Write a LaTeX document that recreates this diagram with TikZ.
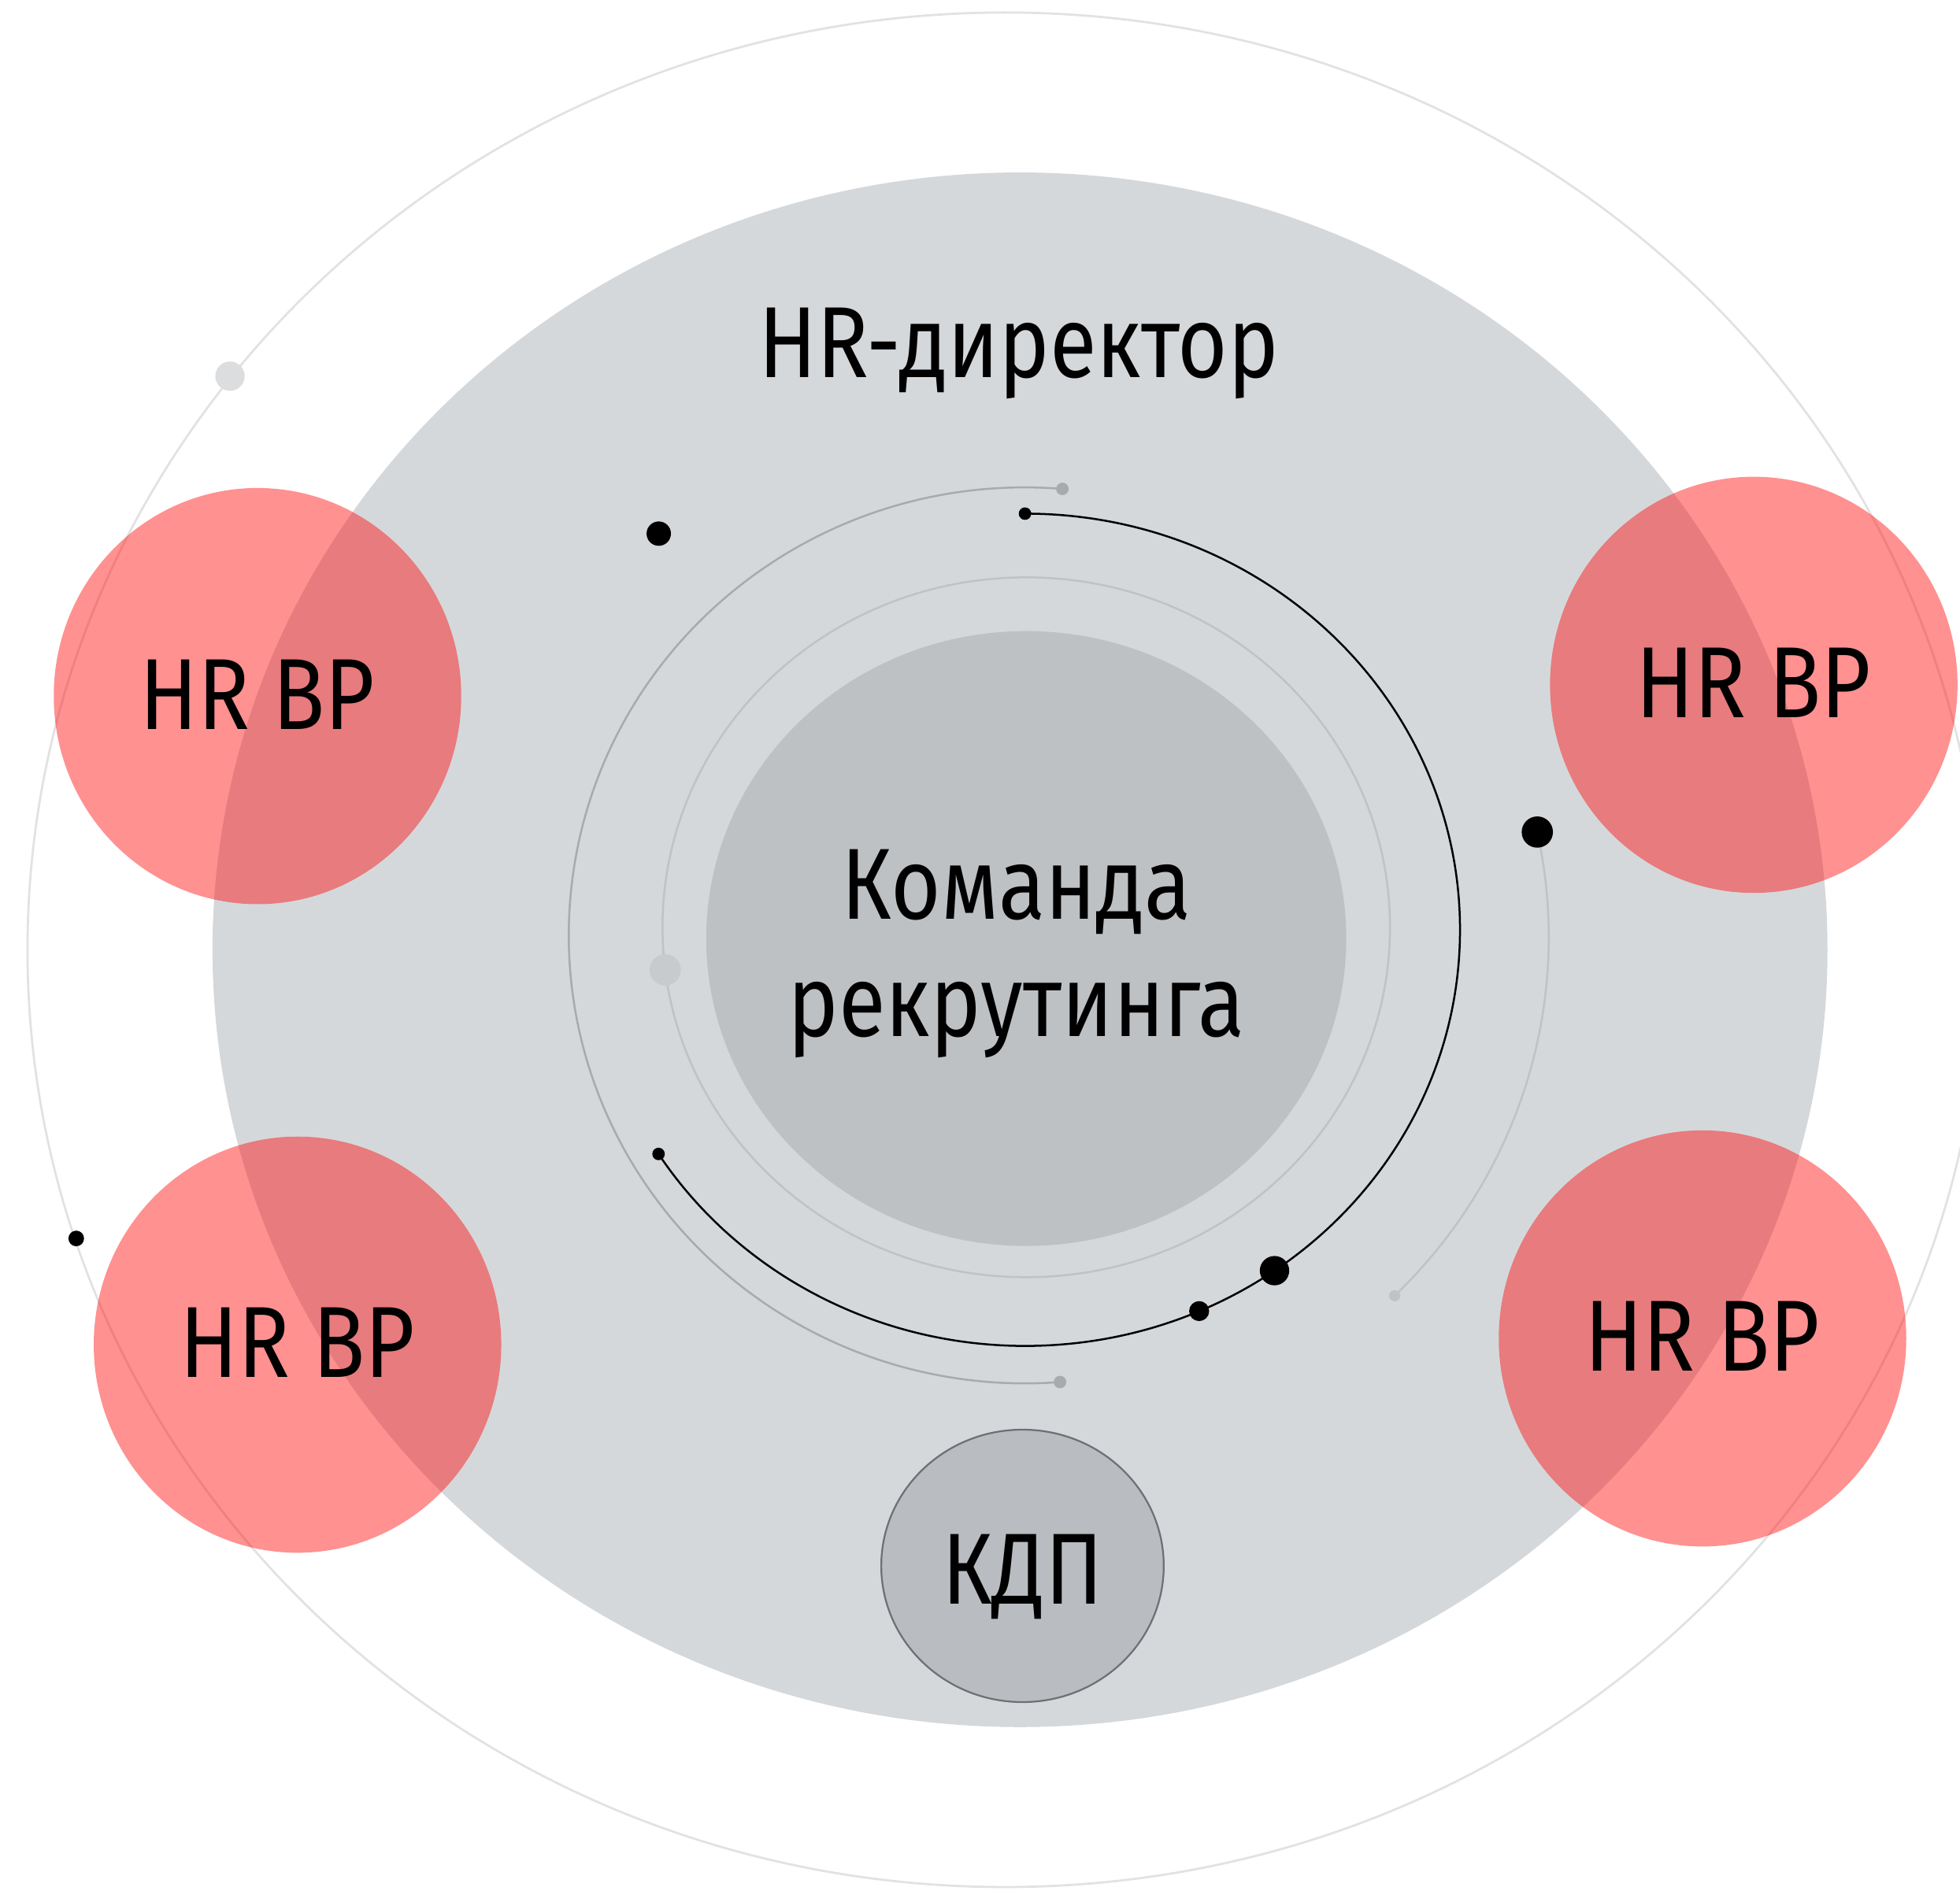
\documentclass[tikz,border=0pt]{standalone}
\usepackage{fontspec}
\setmainfont{Fira Sans}[FakeStretch=0.85]
\usetikzlibrary{shapes.geometric}

\definecolor{fieldgray}{RGB}{213,216,219}
\definecolor{coregray}{RGB}{190,193,196}
\definecolor{kdpgray}{RGB}{185,188,192}
\definecolor{outerline}{RGB}{226,226,226}
\definecolor{orbitgray}{RGB}{168,171,174}
\definecolor{faintgray}{RGB}{192,195,198}
\definecolor{dotlight}{RGB}{220,221,223}
\definecolor{dotcore}{RGB}{200,203,206}
\definecolor{bpred}{RGB}{255,15,15}

\tikzset{
  bigtext/.style={font=\fontsize{23}{26.7}\selectfont, align=center, inner sep=0pt},
  hrbp/.style={ellipse, minimum width=32.6mm, minimum height=33.3mm, inner sep=0pt,
    fill=bpred, fill opacity=0.46, text opacity=1, bigtext},
  dot/.style={circle, fill=black, inner sep=0pt, minimum size=#1},
  orbit/.style={draw=orbitgray, line width=0.45pt},
}

\begin{document}
\begin{tikzpicture}[x=0.1mm, y=-0.1mm]
  \clip (0,0) rectangle (1568,1513);
  % outer orbit
  \draw[outerline, line width=0.5pt] (804,760) ellipse[x radius=782, y radius=750];
  \node[dot=2.35mm, fill=dotlight] (o1) at (184,301) {};
  \node[dot=1.25mm] (o2) at (61,991) {};
  % grey field
  \fill[fieldgray] (816,760) ellipse[x radius=646, y radius=622];
  \node[bigtext, anchor=base] (dir) at (815,302) {HR-директор};
  \node[dot=1.95mm] (d1) at (527,427) {};

  % orbit centres and arc ends
  \coordinate (ca) at (820,748.5);
  \coordinate (cb) at (820,744);
  \coordinate (cc) at (820,750);
  \coordinate (a1) at ([shift={(-85.3:365 and 358.5)}]ca);
  \coordinate (a2) at ([shift={(85.6:365 and 358.5)}]ca);
  \coordinate (b1) at ([shift={(-90:348 and 333)}]cb);
  \coordinate (b2) at ([shift={(147.4:348 and 333)}]cb);
  \coordinate (c1) at ([shift={(-12:419 and 405)}]cc);
  \coordinate (c2) at ([shift={(45.1:419 and 405)}]cc);

  % inner rings
  \draw[faintgray, line width=0.45pt] (821,742) ellipse[x radius=291, y radius=280];
  \fill[coregray] (821,751) ellipse[x radius=256, y radius=246];
  \node[dot=2.5mm, fill=dotcore] (k1) at ([shift={(173:291 and 280)}]821,742) {};

  \draw[orbit] (a1) arc[start angle=-85.3, end angle=-274.4, x radius=365, y radius=358.5];
  \draw[black, line width=0.45pt] (b1) arc[start angle=-90, end angle=147.4, x radius=348, y radius=333];
  \draw[faintgray, line width=0.45pt] (c1) arc[start angle=-12, end angle=45.1, x radius=419, y radius=405];

  \node[dot=1mm, fill=orbitgray] (a1dot) at (a1) {};
  \node[dot=1mm, fill=orbitgray] (a2dot) at (a2) {};
  \node[dot=1mm] (b1dot) at (b1) {};
  \node[dot=1mm] (b2dot) at (b2) {};
  \node[dot=2.35mm] (b3dot) at ([shift={(55:348 and 333)}]cb) {};
  \node[dot=1.6mm] (b4dot) at ([shift={(66.4:348 and 333)}]cb) {};
  \node[dot=2.5mm] (c1dot) at (c1) {};
  \node[dot=0.9mm, fill=faintgray] (c2dot) at (c2) {};

  \node[bigtext] (team) at (813,763) {Команда\\рекрутинга};

  % KDP
  \node[ellipse, minimum width=22.6mm, minimum height=21.8mm, inner sep=0pt,
    fill=kdpgray, draw={rgb,255:red,110;green,112;blue,114}, line width=0.4pt,
    bigtext, text depth=0pt] (kdp) at (818,1253) {\raisebox{-0.6mm}{КДП}};

  % HR BP circles
  \node[hrbp] (bp1) at (206,557) {\raisebox{0.3mm}{HR BP}};
  \node[hrbp] (bp2) at (1403,548) {\raisebox{0.3mm}{HR BP}};
  \node[hrbp] (bp3) at (238,1076) {\raisebox{0.3mm}{HR BP}};
  \node[hrbp] (bp4) at (1362,1071) {\raisebox{0.3mm}{HR BP}};
\end{tikzpicture}
\end{document}
